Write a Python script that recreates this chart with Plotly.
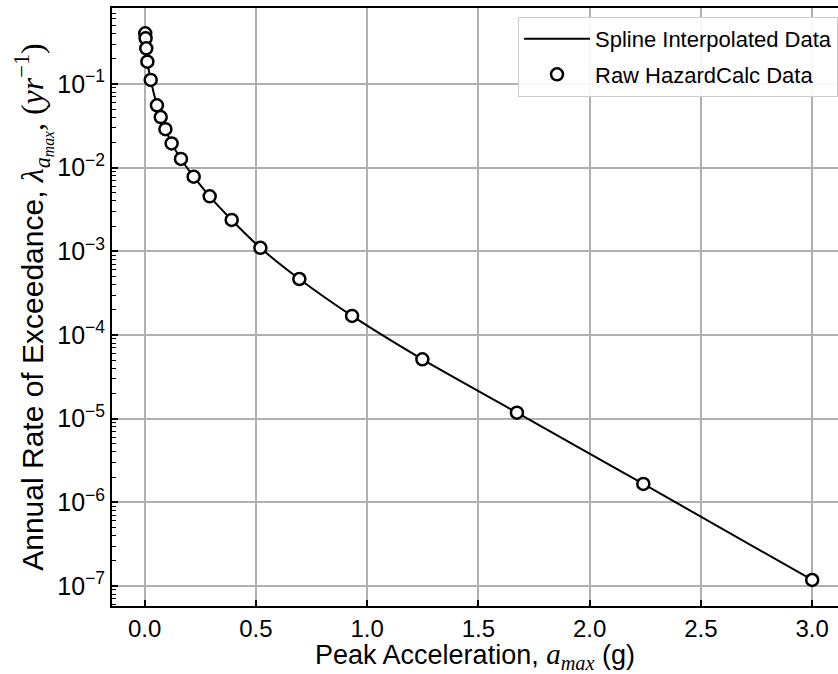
import plotly.graph_objects as go

# Raw hazard data
pga_g = [0.0025, 0.004, 0.007, 0.012, 0.027, 0.055, 0.072, 0.093, 0.121, 0.163,
         0.22, 0.292, 0.391, 0.52, 0.695, 0.932, 1.248, 1.673, 2.241, 3.0]
rate = [0.404, 0.352, 0.267, 0.185, 0.112, 0.0556, 0.0403, 0.0288, 0.0195, 0.0127,
        0.0078, 0.00454, 0.00237, 0.0011, 4.67e-4, 1.69e-4, 5.12e-5, 1.18e-5, 1.66e-6, 1.18e-7]

x_ticks = [0.0, 0.5, 1.0, 1.5, 2.0, 2.5, 3.0]
x_tick_labels = ["0.0", "0.5", "1.0", "1.5", "2.0", "2.5", "3.0"]
y_ticks = [1e-1, 1e-2, 1e-3, 1e-4, 1e-5, 1e-6, 1e-7]
y_tick_labels = ["10<sup>−1</sup>", "10<sup>−2</sup>", "10<sup>−3</sup>", "10<sup>−4</sup>",
                 "10<sup>−5</sup>", "10<sup>−6</sup>", "10<sup>−7</sup>"]

SERIF_Y = "<span style=\"font-family:'Liberation Serif', 'DejaVu Serif', serif; font-size:32px\">"
SERIF_X = "<span style=\"font-family:'Liberation Serif', 'DejaVu Serif', serif; font-size:29px\">"

fig = go.Figure()
fig.add_trace(go.Scatter(
    x=pga_g, y=rate, mode="lines", name="Spline Interpolated Data",
    legendgroup="a",
    line=dict(color="black", width=2, shape="spline", smoothing=0.6),
))
fig.add_trace(go.Scatter(
    x=pga_g, y=rate, mode="markers", name="Raw HazardCalc Data",
    legendgroup="b",
    marker=dict(symbol="circle", size=12, color="white",
                line=dict(color="black", width=2.5)),
))

fig.update_layout(
    width=838, height=674,
    margin=dict(l=112, r=0, t=8, b=68),
    paper_bgcolor="white", plot_bgcolor="white",
    font=dict(family="Liberation Sans, Arial, sans-serif", size=24, color="black"),
    showlegend=True,
    legend=dict(
        x=1.0, xanchor="right", y=0.985, yanchor="top",
        bgcolor="rgba(255,255,255,0.9)", bordercolor="#cccccc", borderwidth=1,
        font=dict(size=22, color="black"),
        itemwidth=66, traceorder="grouped", tracegroupgap=4,
    ),
)

fig.update_xaxes(
    range=[-0.147, 3.116],
    tickvals=x_ticks, ticktext=x_tick_labels,
    ticks="inside", ticklen=6, tickwidth=1.5, tickcolor="black",
    showline=True, linecolor="black", linewidth=2, mirror=True,
    showgrid=True, gridcolor="#b0b0b0", gridwidth=1.5,
    zeroline=False,
    tickfont=dict(size=24),
    title=dict(text="Peak Acceleration, " + SERIF_X + "<i>a<sub>max</sub></i></span> (g)",
               font=dict(size=27), standoff=7),
)

fig.update_yaxes(
    type="log",
    range=[-7.239, -0.0916],
    tickvals=y_ticks, ticktext=y_tick_labels,
    ticks="inside", ticklen=6, tickwidth=1.5, tickcolor="black",
    minor=dict(ticks="inside", ticklen=3.5, tickwidth=1, tickcolor="black",
               dtick="D1", showgrid=False),
    showline=True, linecolor="black", linewidth=2, mirror=False,
    showgrid=True, gridcolor="#b0b0b0", gridwidth=1.5,
    zeroline=False,
    tickfont=dict(size=25),
    title=dict(text="Annual Rate of Exceedance, " + SERIF_Y + "<i>λ</i><sub><i>a<sub>max</sub></i></sub>, (<i>yr</i><sup>−1</sup>)</span>",
               font=dict(size=30), standoff=2),
)

fig.write_html("out.html")
